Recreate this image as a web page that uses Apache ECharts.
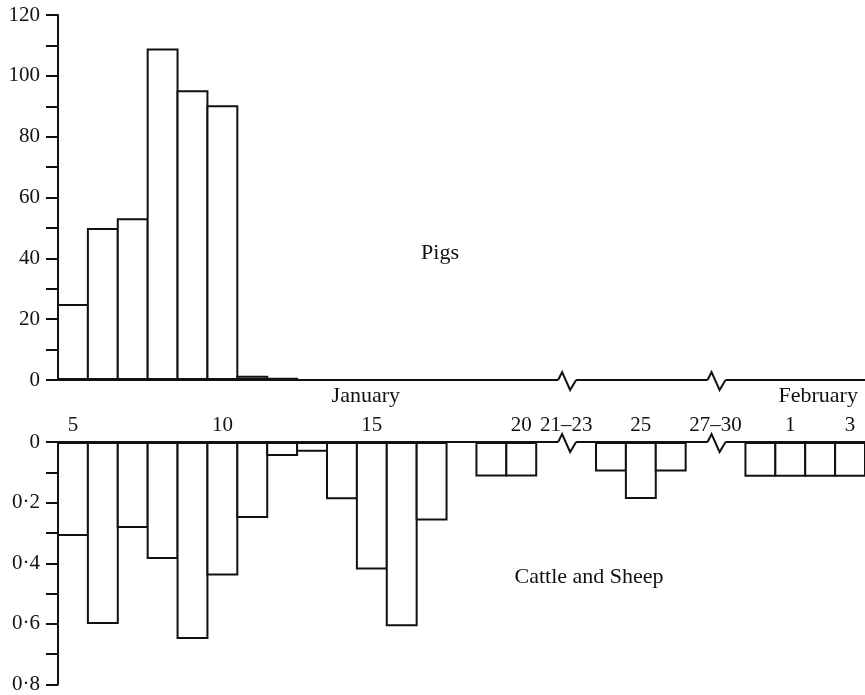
<!DOCTYPE html>
<html>
<head>
<meta charset="utf-8">
<script src="https://cdn.jsdelivr.net/npm/echarts@6/dist/echarts.min.js"></script>
<style>
html,body{margin:0;padding:0;background:#fff;}
#chart{width:865px;height:695px;}
</style>
</head>
<body>
<div id="chart"></div>
<script>
// Slots along the time axis (January 5 .. February 3, with two compressed breaks)
const slots = ['5','6','7','8','9','10','11','12','13','14','15','16','17','18','19','20',
  '21–23 a','21–23 b','24','25','26','27–30 a','27–30 b','31','Feb 1','Feb 2','Feb 3'];
// Day tick labels shown above the lower panel
const dayLabels = ['5','','','','','10','','','','','15','','','','','20',
  '21–23','','','25','','27–30','','','1','','3'];
// Month labels shown below the upper panel
const monthLabels = ['','','','','','','','','','','January','','','','','',
  '','','','','','','','','','February',''];
// Pigs (upper panel)
const pigs = [25,50,53.2,109,95.3,90.3,1.4,0.7,0,0,0,0,0,0,0,0,
  null,null,0,0,0,null,null,0,0,0,0];
// Cattle and Sheep (lower panel, drawn downward)
const cattleSheep = [0.31,0.60,0.284,0.386,0.65,0.44,0.251,0.046,0.032,0.189,0.421,0.608,0.259,0,0.114,0.114,
  null,null,0.097,0.188,0.097,null,null,0.115,0.115,0.115,0.115];
// Axis breaks: the break lies after these slot indices
const breakAfter = [16, 21];
// Panel labels
const panelNames = ['Pigs', 'Cattle and Sheep'];

const FONT = 'Liberation Serif';
const FS = 21;
const FSW = 22;
const INK = '#111';

const chart = echarts.init(document.getElementById('chart'), null, {renderer: 'canvas'});

function toData(arr){ return arr.map(v => v === null ? '-' : v); }

const barStyle = {color: '#fff', borderColor: INK, borderWidth: 2};

function zigzag(params, api){
  const i = api.value(0);
  const p0 = api.coord([i, 0]);
  const p1 = api.coord([i + 1, 0]);
  const x0 = (p0[0] + p1[0]) / 2;
  const y0 = p0[1];
  return {
    type: 'group',
    children: [
      {type: 'rect', shape: {x: x0 - 8, y: y0 - 3, width: 18, height: 6}, style: {fill: '#fff'}},
      {type: 'polyline', shape: {points: [[x0 - 8, y0], [x0 - 4, y0 - 8], [x0 + 4, y0 + 10], [x0 + 10, y0]]},
        style: {stroke: INK, lineWidth: 2, fill: null, lineJoin: 'miter'}}
    ]
  };
}

const option = {
  backgroundColor: '#fff',
  animation: false,
  textStyle: {fontFamily: FONT, color: INK},
  grid: [
    {left: 58, right: -3, top: 15, bottom: 315, containLabel: false},
    {left: 58, right: -3, top: 442, bottom: 10, containLabel: false}
  ],
  xAxis: [
    {
      type: 'category', gridIndex: 0, data: slots, position: 'bottom',
      boundaryGap: true,
      axisLine: {lineStyle: {color: INK, width: 2}},
      axisTick: {show: false},
      axisLabel: {
        interval: 0, margin: 5, fontFamily: FONT, fontSize: FSW, color: INK,
        formatter: function(v, idx){
          const t = monthLabels[idx];
          if (!t) return '';
          return idx === 10 ? '{l|' + t + '}' : '{m|' + t + '}';
        },
        rich: {
          l: {fontFamily: FONT, fontSize: FSW, color: INK, padding: [0, 12, 0, 0]},
          m: {fontFamily: FONT, fontSize: FSW, color: INK, padding: [0, 4, 0, 0]}
        }
      },
      splitLine: {show: false}
    },
    {
      type: 'category', gridIndex: 1, data: slots, position: 'top',
      boundaryGap: true,
      axisLine: {lineStyle: {color: INK, width: 2}},
      axisTick: {show: false},
      axisLabel: {
        interval: 0, margin: 6, fontFamily: FONT, fontSize: FS, color: INK,
        formatter: function(v, idx){
          const t = dayLabels[idx];
          if (!t) return '';
          return (t.indexOf('–') >= 0) ? '{r|' + t + '}' : '{n|' + t + '}';
        },
        rich: {
          n: {fontFamily: FONT, fontSize: FS, color: INK},
          r: {fontFamily: FONT, fontSize: FS, color: INK, padding: [0, 0, 0, 30]}
        }
      },
      splitLine: {show: false}
    }
  ],
  yAxis: [
    {
      type: 'value', gridIndex: 0, min: 0, max: 120, interval: 10,
      axisLine: {show: true, lineStyle: {color: INK, width: 2}},
      axisTick: {show: true, length: 12, lineStyle: {color: INK, width: 2}},
      axisLabel: {
        margin: 18, fontFamily: FONT, fontSize: FS, color: INK,
        formatter: function(v){ return (Math.round(v) % 20 === 0) ? String(Math.round(v)) : ''; }
      },
      splitLine: {show: false}
    },
    {
      type: 'value', gridIndex: 1, min: 0, max: 0.8, interval: 0.1, inverse: true,
      axisLine: {show: true, lineStyle: {color: INK, width: 2}},
      axisTick: {show: true, length: 12, lineStyle: {color: INK, width: 2}},
      axisLabel: {
        margin: 18, fontFamily: FONT, fontSize: FS, color: INK,
        formatter: function(v){
          const k = Math.round(v * 10);
          if (k % 2 !== 0) return '';
          return k === 0 ? '0' : (k / 10).toFixed(1).replace('.', '·');
        }
      },
      splitLine: {show: false}
    }
  ],
  series: [
    {
      name: 'Pigs', type: 'bar', xAxisIndex: 0, yAxisIndex: 0,
      data: toData(pigs), barWidth: '106.67%', itemStyle: barStyle, z: 3
    },
    {
      name: 'Cattle and Sheep', type: 'bar', xAxisIndex: 1, yAxisIndex: 1,
      data: toData(cattleSheep), barWidth: '106.67%', itemStyle: barStyle, z: 3
    },
    {
      type: 'custom', xAxisIndex: 0, yAxisIndex: 0, z: 5,
      data: breakAfter.map(i => [i, 0]), renderItem: zigzag, silent: true
    },
    {
      type: 'custom', xAxisIndex: 1, yAxisIndex: 1, z: 5,
      data: breakAfter.map(i => [i, 0]), renderItem: zigzag, silent: true
    }
  ],
  graphic: [
    {type: 'text', x: 440, y: 253, style: {text: panelNames[0], font: FSW + 'px "' + FONT + '"', fill: INK, align: 'center', verticalAlign: 'middle'}},
    {type: 'text', x: 589, y: 577, style: {text: panelNames[1], font: FSW + 'px "' + FONT + '"', fill: INK, align: 'center', verticalAlign: 'middle'}}
  ]
};

chart.setOption(option);
</script>
</body>
</html>
